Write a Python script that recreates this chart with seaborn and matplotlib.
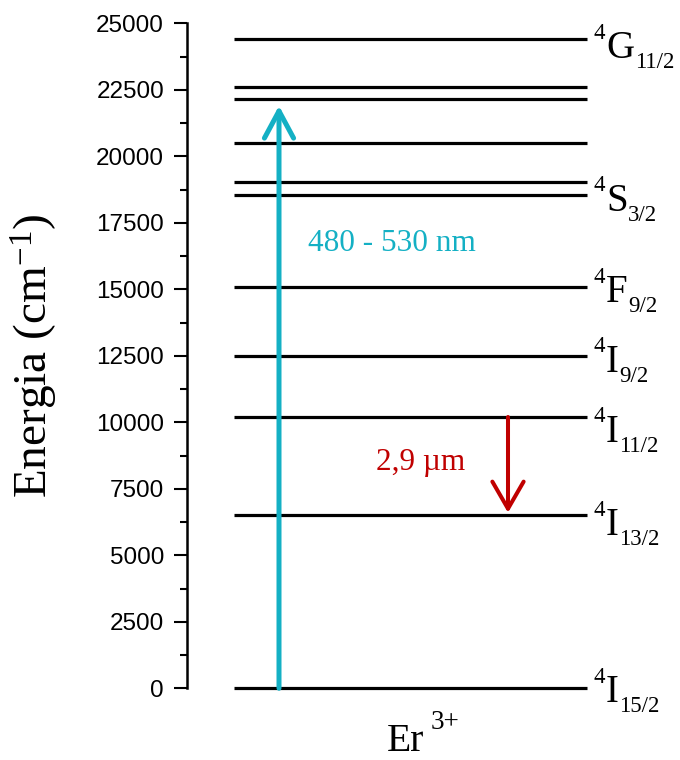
import matplotlib
matplotlib.use("Agg")
import matplotlib.pyplot as plt
from matplotlib.ticker import AutoMinorLocator
import seaborn as sns
import pandas as pd

# ---- data ----
level_energies = [0, 6500, 10200, 12500, 15100, 18550, 19050, 20500, 22150, 22600, 24400]
term_sup = ["4", "4", "4", "4", "4", "4", "4"]
term_letter = ["I", "I", "I", "I", "F", "S", "G"]
term_sub = ["15/2", "13/2", "11/2", "9/2", "9/2", "3/2", "11/2"]
term_energies = [0, 6500, 10200, 12500, 15100, 18550, 24400]
pump_from, pump_to = 0, 21900
pump_label, pump_label_y = "480 - 530 nm", 16740
emis_from, emis_to = 10200, 6600
emis_label, emis_label_y = "2,9 µm", 8470
yticks = [0, 2500, 5000, 7500, 10000, 12500, 15000, 17500, 20000, 22500, 25000]
ion_name, ion_charge = "Er", "3+"
ylabel = r"Energia (cm$^{-1}$)"

# ---- layout / style ----
X0, X1 = 0.1175, 1.0
PUMP_X, EMIS_X = 0.23, 0.8025
CYAN = "#14B0C4"
RED = "#C00000"
TERM_DY_PX = [0, 6, 11, 2, 1.5, 2, 5]   # extra downward shift of each term label
PT = 0.72  # points per pixel at 100 dpi
SERIF = "Liberation Serif"

sns.set_theme(style="ticks")
plt.rcParams["font.family"] = ["Liberation Sans", "DejaVu Sans"]
plt.rcParams["mathtext.fontset"] = "custom"
plt.rcParams["mathtext.rm"] = SERIF
plt.rcParams["mathtext.it"] = SERIF + ":italic"
plt.rcParams["mathtext.bf"] = SERIF + ":bold"

fig = plt.figure(figsize=(6.8, 7.6), dpi=100)
ax = fig.add_axes([187 / 680, 1 - 688.3 / 760, 400 / 680, 665 / 760])
renderer = fig.canvas.get_renderer()

rows = []
for i, e in enumerate(level_energies):
    rows.append({"x": X0, "E": e, "lvl": i})
    rows.append({"x": X1, "E": e, "lvl": i})
df = pd.DataFrame(rows)
sns.lineplot(data=df, x="x", y="E", units="lvl", estimator=None, color="black",
             lw=2.3, ax=ax, legend=False, solid_capstyle="butt")
for ln in ax.lines:
    ln.set_clip_on(False)

ax.set_xlim(0, 1)
ax.set_ylim(0, 25000)
ax.set_yticks(yticks)
ax.yaxis.set_minor_locator(AutoMinorLocator(2))
ax.set_xticks([])
ax.set_xlabel("")
ax.set_ylabel(ylabel, family=SERIF, fontsize=34, color="black")
ax.yaxis.set_label_coords(-0.318, 0.5)
for s in ["top", "right", "bottom"]:
    ax.spines[s].set_visible(False)
ax.spines["left"].set_linewidth(1.8)
ax.spines["left"].set_color("black")
ax.tick_params(axis="y", which="major", length=9.5, width=1.5, pad=7,
               labelsize=17.5, colors="black", direction="out")
ax.tick_params(axis="y", which="minor", length=5, width=1.5, colors="black", direction="out")


def put(txt, xy, coords, dx_px, dy_px, size):
    t = ax.annotate(txt, xy=xy, xycoords=coords, xytext=(dx_px * PT, dy_px * PT),
                    textcoords="offset points", ha="left", va="baseline",
                    fontsize=size, family=SERIF, color="black", annotation_clip=False)
    return t.get_window_extent(renderer).width


# term labels: superscript multiplicity, letter, subscript J
for sup, let, sub, e, ddy in zip(term_sup, term_letter, term_sub, term_energies, TERM_DY_PX):
    base = -(14 + ddy)
    coords = ("axes fraction", "data")
    x = 6.0
    x += put(sup, (1.0, e), coords, x, base + 19.5, 16.5) + 1.5
    x += put(let, (1.0, e), coords, x, base, 28) + 0.5
    put(sub, (1.0, e), coords, x, base - 10, 16.5)

# ion label
x = 0.0
x += put(ion_name, (0.5, -0.094), "axes fraction", x, 0, 28.5) + 6
put(ion_charge, (0.5, -0.094), "axes fraction", x, 22, 19.5)

# arrows
ax.annotate("", xy=(PUMP_X, pump_to), xytext=(PUMP_X, pump_from),
            arrowprops=dict(arrowstyle="->,head_length=1.3,head_width=0.7",
                            lw=3.6, color=CYAN, shrinkA=0, shrinkB=0,
                            mutation_scale=15))
ax.annotate("", xy=(EMIS_X, emis_to), xytext=(EMIS_X, emis_from),
            arrowprops=dict(arrowstyle="->,head_length=1.3,head_width=0.75",
                            lw=2.9, color=RED, shrinkA=0, shrinkB=0,
                            mutation_scale=15))
ax.text(0.5125, pump_label_y, pump_label, color=CYAN, fontsize=22.5,
        family=SERIF, ha="center", va="center")
ax.text(0.585, emis_label_y, emis_label, color=RED, fontsize=22.5,
        family=SERIF, ha="center", va="center")

fig.savefig("out.png", dpi=100)
